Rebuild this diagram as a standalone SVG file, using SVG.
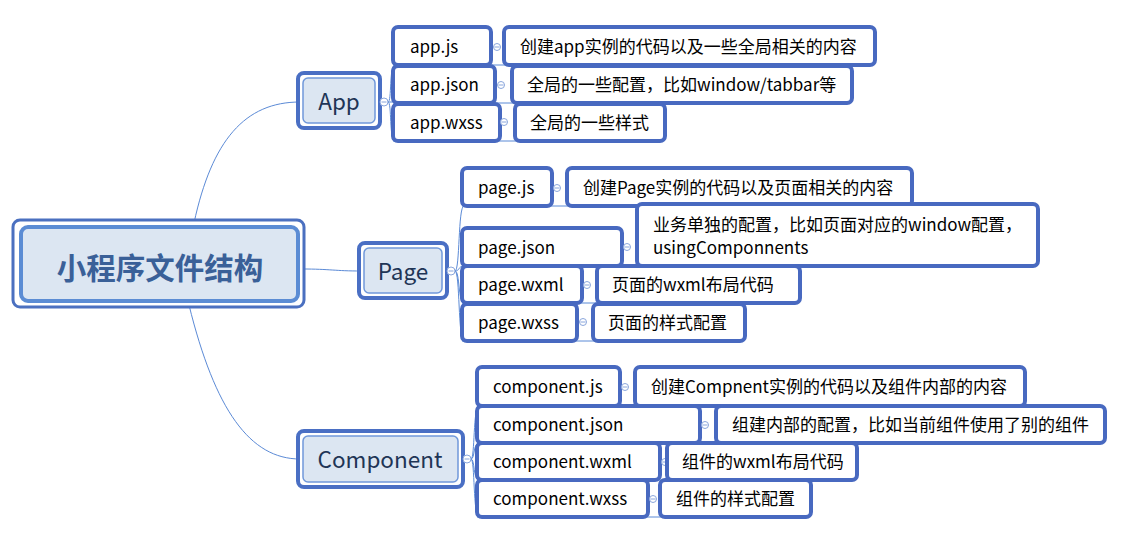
<svg xmlns="http://www.w3.org/2000/svg" width="1142" height="553" viewBox="0 0 1142 553">
<style>
text{font-family:"Noto Sans CJK SC","Open Sans","Liberation Sans",sans-serif;}
.leaf{fill:#fff;stroke:#4869c0;stroke-width:4;}
.lt{font-size:17px;fill:#000;}
.pOuter{fill:#fff;stroke:#4a6fc4;stroke-width:4;}
.pInner{fill:#dce6f2;stroke:#7098da;stroke-width:1.5;}
.pt{font-size:22.5px;fill:#1f3556;text-anchor:middle;}
.conn{fill:none;stroke:#5b8ad6;stroke-width:1;}
.tog{fill:#fff;stroke:#8aa6dc;stroke-width:1;}
.togm{stroke:#8aa6dc;stroke-width:1;}
</style>
<rect width="1142" height="553" fill="#fff"/>
<g id="connectors">
<path class="conn" d="M194,223 C212,140 245,102 300,102"/>
<path class="conn" d="M302,269 C330,269 335,271 361,271"/>
<path class="conn" d="M189,305 C215,410 250,459 300,459"/>
<path class="conn" d="M388,102 C392,102 389,65 395,65 M388,102 H395 M388,102 C392,102 389,141 395,141"/>
<path class="conn" d="M455,271 C460,271 458,206 464,206 M455,271 C460,271 458,266 464,266 M455,271 C460,271 458,303 464,303 M455,271 C460,271 458,341 464,341"/>
<path class="conn" d="M471,459 C475,459 473,406 479,406 M471,459 C475,459 473,443 479,443 M471,459 C475,459 473,480 479,480 M471,459 C475,459 473,517 479,517"/>
<path class="conn" d="M393,65 H506 M393,103 H514 M393,141 H517"/>
<path class="conn" d="M462,206 H569 M462,266 H639 M462,303 H599 M462,341 H595"/>
<path class="conn" d="M477,406 H637 M477,443 H718 M477,480 H669 M477,517 H662"/>
</g>
<g id="root">
<rect x="13" y="220" width="291" height="87" rx="7" fill="#fff" stroke="#4b70c0" stroke-width="3"/>
<rect x="21" y="227" width="277" height="74" rx="7" fill="#dce6f2" stroke="#5b8cd4" stroke-width="4"/>
<text x="160" y="279" font-size="29.5" font-weight="bold" fill="#3a6098" text-anchor="middle">小程序文件结构</text>
</g>
<g id="app">
<rect class="pOuter" x="298" y="73" width="82" height="55" rx="6"/>
<rect class="pInner" x="303" y="78" width="72" height="45" rx="5"/>
<text class="pt" x="339" y="110">App</text>
<circle class="tog" cx="384" cy="102" r="4"/><line class="togm" x1="381.5" y1="102" x2="386.5" y2="102"/>
</g>
<g id="page">
<rect class="pOuter" x="359" y="243" width="88" height="55" rx="6"/>
<rect class="pInner" x="364" y="248" width="78" height="45" rx="5"/>
<text class="pt" x="403" y="280">Page</text>
<circle class="tog" cx="451" cy="271" r="4"/><line class="togm" x1="448.5" y1="271" x2="453.5" y2="271"/>
</g>
<g id="component">
<rect class="pOuter" x="298" y="431" width="165" height="56" rx="6"/>
<rect class="pInner" x="303" y="436" width="155" height="46" rx="5"/>
<text class="pt" x="380" y="468">Component</text>
<circle class="tog" cx="467" cy="459" r="4"/><line class="togm" x1="464.5" y1="459" x2="469.5" y2="459"/>
</g>
<g id="app-js">
<rect class="leaf" x="393" y="27" width="98" height="38" rx="5"/>
<text class="lt" x="410" y="53">app.js</text>
<circle class="tog" cx="497" cy="47" r="3.5"/><line class="togm" x1="494.5" y1="47" x2="499.5" y2="47"/>
</g>
<g id="app-js-desc">
<rect class="leaf" x="504" y="27" width="371" height="38" rx="5"/>
<text class="lt" x="520" y="53">创建app实例的代码以及一些全局相关的内容</text>
</g>
<g id="app-json">
<rect class="leaf" x="393" y="66" width="102" height="37" rx="5"/>
<text class="lt" x="410" y="91">app.json</text>
<circle class="tog" cx="501" cy="85" r="3.5"/><line class="togm" x1="498.5" y1="85" x2="503.5" y2="85"/>
</g>
<g id="app-json-desc">
<rect class="leaf" x="512" y="66" width="340" height="37" rx="5"/>
<text class="lt" x="527" y="91">全局的一些配置，比如window/tabbar等</text>
</g>
<g id="app-wxss">
<rect class="leaf" x="393" y="104" width="107" height="37" rx="5"/>
<text class="lt" x="410" y="129">app.wxss</text>
<circle class="tog" cx="504" cy="122" r="3.5"/><line class="togm" x1="501.5" y1="122" x2="506.5" y2="122"/>
</g>
<g id="app-wxss-desc">
<rect class="leaf" x="515" y="104" width="150" height="37" rx="5"/>
<text class="lt" x="530" y="129">全局的一些样式</text>
</g>
<g id="page-js">
<rect class="leaf" x="462" y="168" width="90" height="38" rx="5"/>
<text class="lt" x="478" y="194">page.js</text>
<circle class="tog" cx="557" cy="188" r="3.5"/><line class="togm" x1="554.5" y1="188" x2="559.5" y2="188"/>
</g>
<g id="page-js-desc">
<rect class="leaf" x="567" y="168" width="345" height="38" rx="5"/>
<text class="lt" x="583" y="194">创建Page实例的代码以及页面相关的内容</text>
</g>
<g id="page-json">
<rect class="leaf" x="462" y="228" width="160" height="38" rx="5"/>
<text class="lt" x="478" y="254">page.json</text>
<circle class="tog" cx="627" cy="247" r="3.5"/><line class="togm" x1="624.5" y1="247" x2="629.5" y2="247"/>
</g>
<g id="page-json-desc">
<rect class="leaf" x="637" y="204" width="401" height="62" rx="5"/>
<text class="lt" x="653" y="231">业务单独的配置，比如页面对应的window配置，</text>
<text class="lt" x="653" y="254">usingComponnents</text>
</g>
<g id="page-wxml">
<rect class="leaf" x="462" y="266" width="120" height="37" rx="5"/>
<text class="lt" x="478" y="291">page.wxml</text>
<circle class="tog" cx="587" cy="285" r="3.5"/><line class="togm" x1="584.5" y1="285" x2="589.5" y2="285"/>
</g>
<g id="page-wxml-desc">
<rect class="leaf" x="597" y="266" width="203" height="37" rx="5"/>
<text class="lt" x="612" y="291">页面的wxml布局代码</text>
</g>
<g id="page-wxss">
<rect class="leaf" x="462" y="304" width="115" height="37" rx="5"/>
<text class="lt" x="478" y="329">page.wxss</text>
<circle class="tog" cx="583" cy="322" r="3.5"/><line class="togm" x1="580.5" y1="322" x2="585.5" y2="322"/>
</g>
<g id="page-wxss-desc">
<rect class="leaf" x="593" y="304" width="152" height="37" rx="5"/>
<text class="lt" x="608" y="329">页面的样式配置</text>
</g>
<g id="component-js">
<rect class="leaf" x="477" y="367" width="143" height="39" rx="5"/>
<text class="lt" x="493" y="393">component.js</text>
<circle class="tog" cx="625" cy="387" r="3.5"/><line class="togm" x1="622.5" y1="387" x2="627.5" y2="387"/>
</g>
<g id="component-js-desc">
<rect class="leaf" x="635" y="367" width="390" height="39" rx="5"/>
<text class="lt" x="651" y="393">创建Compnent实例的代码以及组件内部的内容</text>
</g>
<g id="component-json">
<rect class="leaf" x="477" y="406" width="223" height="37" rx="5"/>
<text class="lt" x="493" y="431">component.json</text>
<circle class="tog" cx="705" cy="425" r="3.5"/><line class="togm" x1="702.5" y1="425" x2="707.5" y2="425"/>
</g>
<g id="component-json-desc">
<rect class="leaf" x="716" y="406" width="389" height="37" rx="5"/>
<text class="lt" x="732" y="431">组建内部的配置，比如当前组件使用了别的组件</text>
</g>
<g id="component-wxml">
<rect class="leaf" x="477" y="443" width="183" height="37" rx="5"/>
<text class="lt" x="493" y="468">component.wxml</text>
<circle class="tog" cx="665" cy="462" r="3.5"/><line class="togm" x1="662.5" y1="462" x2="667.5" y2="462"/>
</g>
<g id="component-wxml-desc">
<rect class="leaf" x="667" y="443" width="190" height="37" rx="5"/>
<text class="lt" x="682" y="468">组件的wxml布局代码</text>
</g>
<g id="component-wxss">
<rect class="leaf" x="477" y="480" width="171" height="37" rx="5"/>
<text class="lt" x="493" y="505">component.wxss</text>
<circle class="tog" cx="653" cy="499" r="3.5"/><line class="togm" x1="650.5" y1="499" x2="655.5" y2="499"/>
</g>
<g id="component-wxss-desc">
<rect class="leaf" x="660" y="480" width="151" height="37" rx="5"/>
<text class="lt" x="676" y="505">组件的样式配置</text>
</g>
</svg>
